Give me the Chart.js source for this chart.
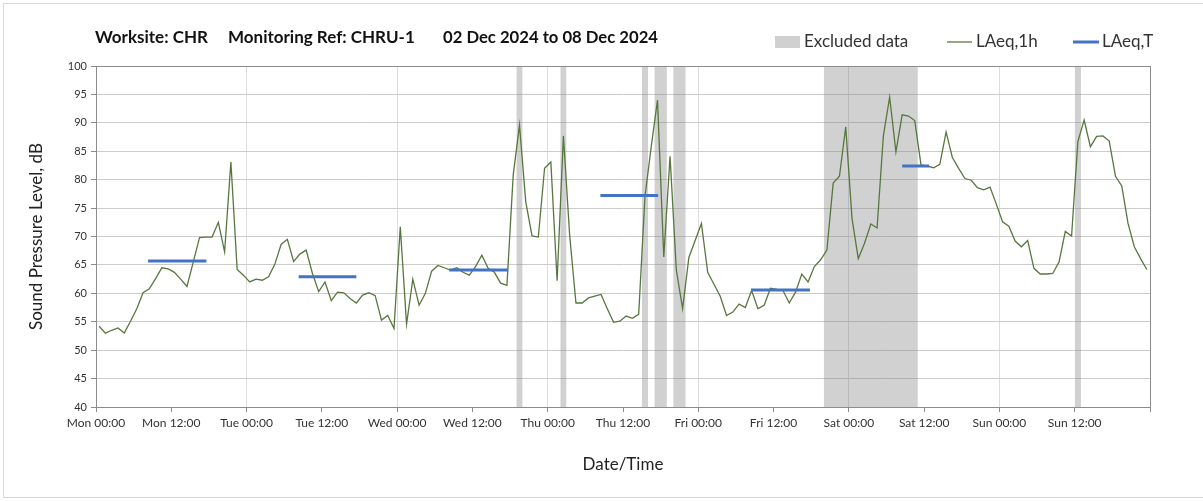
<!DOCTYPE html>
<html>
<head>
<meta charset="utf-8">
<script src="https://cdn.jsdelivr.net/npm/chart.js@4/dist/chart.umd.min.js"></script>
<style>
  html, body { margin: 0; padding: 0; background: #fff; }
  #wrap { width: 1203px; height: 501px; position: relative; }
</style>
</head>
<body>
<div id="wrap"><canvas id="noiseChart" width="1203" height="501"></canvas></div>
<script>
// ─── DATA (hours from Mon 02 Dec 00:00) ───
const xTickLabels = ['Mon 00:00', 'Mon 12:00', 'Tue 00:00', 'Tue 12:00', 'Wed 00:00', 'Wed 12:00',
  'Thu 00:00', 'Thu 12:00', 'Fri 00:00', 'Fri 12:00', 'Sat 00:00', 'Sat 12:00', 'Sun 00:00', 'Sun 12:00'];

// LAeq,1h - one value per hour, plotted at the middle of the hour
const laeq1h = [
  54.2, 53.0, 53.5, 53.9, 53.0, 55.1, 57.3, 60.1, 60.8, 62.6, 64.5, 64.3,
  63.7, 62.5, 61.2, 65.5, 69.8, 69.9, 69.9, 72.5, 67.3, 83.1, 64.2, 63.2,
  62.0, 62.5, 62.3, 62.9, 65.1, 68.6, 69.5, 65.6, 66.9, 67.6, 63.5, 60.3,
  62.0, 58.7, 60.2, 60.1, 59.1, 58.3, 59.7, 60.1, 59.6, 55.3, 56.1, 53.8,
  71.7, 54.6, 62.5, 57.9, 60.0, 63.9, 64.9, 64.5, 64.1, 64.5, 63.7, 63.2,
  64.7, 66.7, 64.4, 63.7, 61.8, 61.4, 80.8, 89.6, 76.1, 70.1, 69.9, 82.0,
  83.1, 62.2, 87.7, 70.2, 58.3, 58.3, 59.2, 59.5, 59.8, 57.3, 54.9, 55.1,
  56.0, 55.6, 56.3, 77.0, 85.8, 94.0, 66.4, 84.1, 64.1, 57.3, 66.3, 69.3,
  72.3, 63.7, 61.6, 59.5, 56.1, 56.7, 58.1, 57.5, 60.5, 57.3, 57.9, 60.9,
  60.7, 60.5, 58.3, 60.2, 63.4, 62.0, 64.7, 65.9, 67.6, 79.4, 80.6, 89.3,
  73.2, 66.1, 68.8, 72.2, 71.5, 87.7, 94.5, 84.9, 91.4, 91.2, 90.4, 82.6,
  82.4, 82.1, 82.7, 88.4, 83.9, 82.0, 80.2, 79.9, 78.6, 78.2, 78.7, 75.7,
  72.6, 71.8, 69.2, 68.2, 69.3, 64.4, 63.4, 63.4, 63.5, 65.5, 70.9, 70.1,
  86.7, 90.5, 85.8, 87.6, 87.7, 86.8, 80.6, 78.9, 72.3, 68.2, 66.1, 64.2
];

// LAeq,T daytime periods
const laeqTStart = [8.3, 32.3, 56.3, 80.4, 104.4, 128.5];
const laeqTEnd   = [17.6, 41.5, 65.7, 89.6, 113.8, 132.8];
const laeqT      = [65.7, 62.9, 64.1, 77.2, 60.6, 82.4];

// Excluded data periods
const excludedStart = [67, 74, 87, 89, 92, 116, 156];
const excludedEnd   = [68, 75, 88, 91, 94, 131, 157];

const titleParts = ['Worksite: CHR', 'Monitoring Ref: CHRU-1', '02 Dec 2024 to 08 Dec 2024'];

// ─── COLOURS ───
const GREEN = '#58773f';
const BLUE = '#4472c4';
const BAND = 'rgba(128,128,128,0.36)';
const FONT = 'Lato, "Open Sans", sans-serif';

// ─── BUILD SERIES ───
const linePoints = laeq1h.map((v, i) => ({ x: i + 0.5, y: v }));

const bandPoints = [];
excludedStart.forEach((s, i) => {
  bandPoints.push({ x: s, y: 100 }, { x: excludedEnd[i], y: 100 }, { x: excludedEnd[i], y: null });
});

const periodPoints = [];
laeqTStart.forEach((s, i) => {
  periodPoints.push({ x: s, y: laeqT[i] }, { x: laeqTEnd[i], y: laeqT[i] }, { x: laeqTEnd[i], y: null });
});

// title, legend and frame drawn on the canvas
const decorPlugin = {
  id: 'decor',
  afterDraw(chart) {
    const { ctx, chartArea } = chart;
    ctx.save();
    // plot frame
    ctx.strokeStyle = '#8c8c8c';
    ctx.lineWidth = 1;
    ctx.strokeRect(Math.round(chartArea.left) + 0.5, Math.round(chartArea.top) + 0.5,
      Math.round(chartArea.right - chartArea.left), Math.round(chartArea.bottom - chartArea.top));
    // outer chart border
    ctx.strokeStyle = '#d9d9d9';
    ctx.strokeRect(3.5, 3.5, chart.width + 10, chart.height - 7);

    // title
    ctx.fillStyle = '#111';
    ctx.font = 'bold 17px ' + FONT;
    ctx.textBaseline = 'middle';
    ctx.textAlign = 'left';
    const titleX = [95, 228, 443];
    const titleW = [115, 192, 215];
    titleParts.forEach((t, i) => ctx.fillText(t, titleX[i], 38, titleW[i]));

    // legend
    ctx.font = '17px ' + FONT;
    ctx.fillStyle = '#d0d0d0';
    ctx.fillRect(775, 36, 25, 12);
    ctx.fillStyle = '#333';
    ctx.fillText('Excluded data', 804, 42);

    ctx.strokeStyle = GREEN;
    ctx.lineWidth = 1.3;
    ctx.beginPath(); ctx.moveTo(947, 42); ctx.lineTo(972, 42); ctx.stroke();
    ctx.fillText(chart.data.datasets[0].label, 976, 42);

    ctx.strokeStyle = BLUE;
    ctx.lineWidth = 3;
    ctx.beginPath(); ctx.moveTo(1073, 42); ctx.lineTo(1099, 42); ctx.stroke();
    ctx.fillText(chart.data.datasets[1].label, 1102, 42);
    ctx.restore();
  }
};

new Chart(document.getElementById('noiseChart'), {
  type: 'line',
  data: {
    datasets: [
      { label: 'LAeq,1h', data: linePoints, borderColor: GREEN, borderWidth: 1.3,
        pointRadius: 0, tension: 0, order: 2 },
      { label: 'LAeq,T', data: periodPoints, borderColor: BLUE, borderWidth: 3,
        pointRadius: 0, spanGaps: false, order: 1 },
      { label: 'Excluded data', data: bandPoints, borderWidth: 0, borderColor: 'transparent',
        backgroundColor: BAND, fill: 'start', pointRadius: 0, spanGaps: false, order: 3 }
    ]
  },
  options: {
    responsive: false,
    animation: false,
    events: [],
    layout: { padding: { left: 0, right: 53, top: 66, bottom: 0 } },
    plugins: { legend: { display: false }, tooltip: { enabled: false } },
    scales: {
      x: {
        type: 'linear',
        min: 0, max: 168,
        afterFit: (scale) => { scale.height = 94; },
        border: { color: '#8c8c8c' },
        grid: {
          color: (c) => (c.tick && c.tick.value % 24 === 0 && c.tick.value > 0 && c.tick.value < 168) ? '#dcdcdc' : 'transparent',
          tickColor: '#8c8c8c',
          tickLength: 5,
          lineWidth: 1
        },
        ticks: {
          stepSize: 12,
          autoSkip: false,
          maxRotation: 0,
          padding: 4,
          color: '#333',
          font: { family: FONT, size: 12 },
          callback: (v) => xTickLabels[v / 12] || ''
        },
        title: {
          display: true, text: 'Date/Time', color: '#222',
          font: { family: FONT, size: 17 }, padding: { top: 0, bottom: 26 }
        }
      },
      y: {
        min: 40, max: 100,
        afterFit: (scale) => { scale.width = 96; },
        border: { color: '#8c8c8c' },
        grid: { color: '#cbcbcb', tickColor: '#8c8c8c', tickLength: 5 },
        ticks: {
          stepSize: 5, padding: 4, color: '#333',
          font: { family: FONT, size: 11 }
        },
        title: {
          display: true, text: 'Sound Pressure Level, dB', color: '#222',
          font: { family: FONT, size: 17 }, padding: { top: 26, bottom: 0 }
        }
      }
    }
  },
  plugins: [decorPlugin]
});
</script>
</body>
</html>
